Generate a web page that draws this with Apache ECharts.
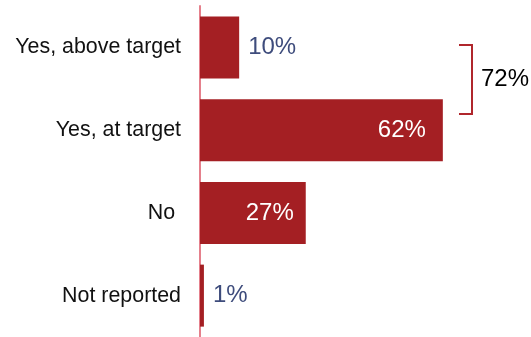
<!DOCTYPE html>
<html>
<head>
<meta charset="utf-8">
<script src="https://cdn.jsdelivr.net/npm/echarts@6/dist/echarts.min.js"></script>
<style>
  html, body { margin: 0; padding: 0; background: #fff; }
  #chart { width: 531px; height: 337px; }
</style>
</head>
<body>
<div id="chart"></div>
<script>
// Share of respondents per answer (percent)
const categories = ['Yes, above target', 'Yes, at target', 'No ', 'Not reported'];
const shares = [10, 62, 27, 1];
// Where each value label sits: beside the bar or inside its end
const labelInside = [false, true, true, false];
// Answers grouped by the bracket on the right
const bracketGroup = [0, 1];

const BAR = '#a41f23';
const AXIS = '#e5808c';
const VALUE_TEXT = '#3e4c7c';
const FONT = '"Liberation Sans", Arial, sans-serif';

const chart = echarts.init(document.getElementById('chart'), null, { renderer: 'canvas' });

const barData = shares.map((v, i) => ({
  value: v,
  label: labelInside[i]
    ? { position: 'insideRight', distance: i === 1 ? 17 : 12, color: '#ffffff' }
    : { position: 'right', distance: 9, color: VALUE_TEXT }
}));

chart.setOption({
  animation: false,
  grid: { left: 200, top: 6, width: 329, height: 334, containLabel: false },
  xAxis: {
    type: 'value', min: 0, max: 84, show: false
  },
  yAxis: {
    type: 'category',
    data: categories,
    inverse: true,
    axisLine: { show: true, lineStyle: { color: AXIS, width: 2 } },
    axisTick: { show: false },
    axisLabel: { color: '#111', fontSize: 21.4, fontFamily: FONT, margin: 19 }
  },
  series: [{
    type: 'bar',
    data: barData,
    barWidth: 62,
    itemStyle: { color: BAR },
    label: {
      show: true,
      fontSize: 24,
      fontFamily: FONT,
      formatter: p => p.value + '%'
    }
  }]
});

// Bracket spanning the "yes" answers, with their combined share
const yTop = Math.round(chart.convertToPixel({ yAxisIndex: 0 }, categories[bracketGroup[0]]) - 2);
const yBot = Math.round(chart.convertToPixel({ yAxisIndex: 0 }, categories[bracketGroup[1]]) - 16);
const total = bracketGroup.reduce((s, i) => s + shares[i], 0);
const bx = 472;

chart.setOption({
  graphic: [
    {
      type: 'polyline',
      shape: { points: [[459, yTop], [bx, yTop], [bx, yBot], [459, yBot]] },
      style: { stroke: '#b0262c', lineWidth: 2, fill: null }
    },
    {
      type: 'text',
      x: 481,
      y: (yTop + yBot) / 2,
      style: {
        text: total + '%',
        fill: '#000',
        font: '24px ' + FONT,
        textVerticalAlign: 'middle',
        verticalAlign: 'middle'
      }
    }
  ]
});
</script>
</body>
</html>
